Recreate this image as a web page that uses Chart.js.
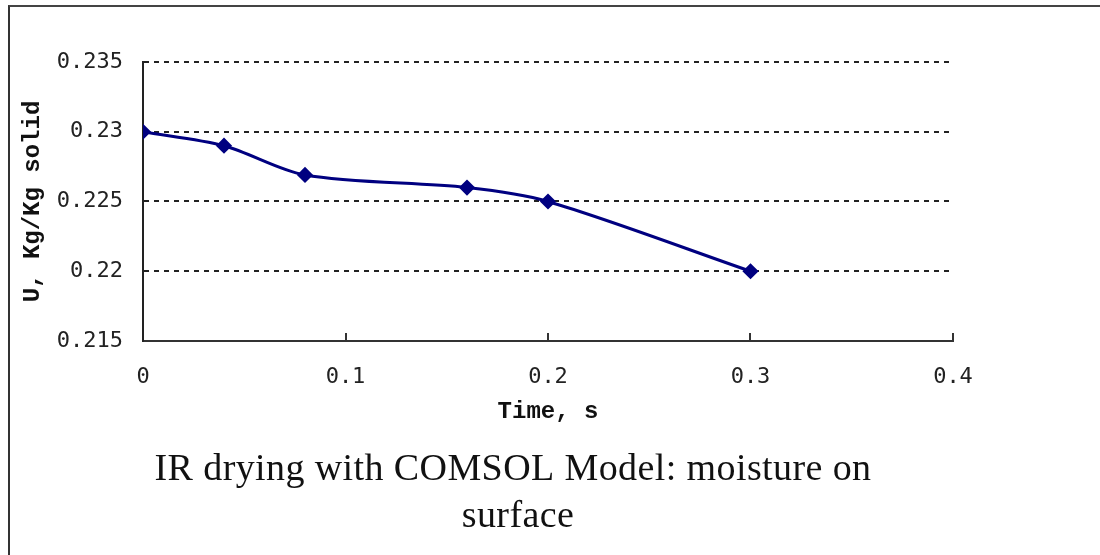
<!DOCTYPE html>
<html>
<head>
<meta charset="utf-8">
<script src="https://cdn.jsdelivr.net/npm/chart.js@4"></script>
<style>
  html, body { margin: 0; padding: 0; background: #fff; }
  #wrap { position: relative; width: 1100px; height: 555px; overflow: hidden; }
  #frame { position: absolute; left: 8px; top: 5px; width: 1200px; height: 700px;
           border-top: 2px solid #444; border-left: 2px solid #333; }
  #c { position: absolute; left: 0; top: 0; }
</style>
</head>
<body>
<div id="wrap">
  <div id="frame"></div>
  <canvas id="c" width="1100" height="555"></canvas>
</div>
<script>
const timeValues = [0, 0.04, 0.08, 0.16, 0.2, 0.3];
const moistureValues = [0.23, 0.229, 0.2269, 0.226, 0.225, 0.22];
const yTicks = [0.215, 0.22, 0.225, 0.23, 0.235];
const xTicks = [0, 0.1, 0.2, 0.3, 0.4];
const titleLines = ["IR drying with COMSOL Model: moisture on", "surface"];

const tickFont = { family: "DejaVu Sans Mono", size: 22 };
const axisTitleFont = { family: "Liberation Mono", size: 24, weight: "bold" };

// Titel unten, etwas links von der Mitte wie im Original
const bottomTitle = {
  id: "bottomTitle",
  afterDraw(chart) {
    const ctx = chart.ctx;
    ctx.save();
    ctx.fillStyle = "#111";
    ctx.font = "38px 'Liberation Serif'";
    ctx.textAlign = "center";
    ctx.textBaseline = "alphabetic";
    ctx.letterSpacing = "0.4px";
    ctx.fillText(titleLines[0], 513, 480);
    ctx.fillText(titleLines[1], 518, 527);
    ctx.restore();
  },
};

new Chart(document.getElementById("c"), {
  type: "line",
  data: {
    datasets: [
      {
        data: timeValues.map((t, i) => ({ x: t, y: moistureValues[i] })),
        borderColor: "#000080",
        backgroundColor: "#000080",
        borderWidth: 3,
        tension: 0.3,
        pointStyle: "rectRot",
        pointRadius: 6,
        pointHoverRadius: 6,
      },
    ],
  },
  options: {
    responsive: false,
    animation: false,
    layout: { padding: { left: 0, top: 62, right: 147, bottom: 129 } },
    plugins: { legend: { display: false }, tooltip: { enabled: false }, title: { display: false } },
    scales: {
      x: {
        type: "linear",
        min: 0,
        max: 0.4,
        afterBuildTicks: (s) => { s.ticks = xTicks.map((v) => ({ value: v })); },
        afterFit: (s) => { s.height = 85; },
        border: { display: true, color: "#333", width: 2 },
        grid: { drawOnChartArea: false, drawTicks: true, tickLength: -8, color: "#333", lineWidth: 2 },
        ticks: {
          font: tickFont,
          color: "#222",
          padding: 31,
          callback: (v) => String(Number(v.toFixed(3))),
        },
        title: {
          display: true,
          text: "Time, s",
          font: axisTitleFont,
          color: "#111",
          padding: { top: 0, bottom: 0 },
        },
      },
      y: {
        min: 0.215,
        max: 0.235,
        afterBuildTicks: (s) => { s.ticks = yTicks.map((v) => ({ value: v })); },
        afterFit: (s) => { s.width = 143; },
        border: { display: true, color: "#222", width: 2, dash: [5, 5] },
        grid: {
          drawTicks: false,
          color: (c) => (c.tick && c.tick.value === 0.215 ? "rgba(0,0,0,0)" : "#222"),
          lineWidth: 2,
        },
        ticks: {
          font: tickFont,
          color: "#222",
          padding: 20,
          callback: (v) => String(Number(v.toFixed(3))),
        },
        title: {
          display: true,
          text: "U, Kg/Kg solid",
          font: axisTitleFont,
          color: "#111",
          padding: { top: 19, bottom: 0 },
        },
      },
    },
  },
  plugins: [bottomTitle],
});
</script>
</body>
</html>
